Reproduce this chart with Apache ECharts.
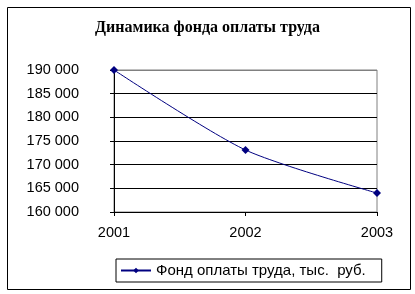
<!DOCTYPE html>
<html><head><meta charset="utf-8">
<script src="https://cdn.jsdelivr.net/npm/echarts@6/dist/echarts.min.js"></script>
<style>html,body{margin:0;padding:0;background:#fff}#c{width:415px;height:294px}</style>
</head><body><div id="c"></div>
<script>
const titleText = 'Динамика фонда оплаты труда';
const years = ['2001', '2002', '2003'];
const seriesName = 'Фонд оплаты труда, тыс.  руб.';
const fundValues = [190000, 173100, 164000];
const yMin = 160000, yMax = 190000, yStep = 5000;

const chart = echarts.init(document.getElementById('c'), null, {renderer: 'canvas'});
const fmt = v => String(v).replace(/\B(?=(\d{3})+(?!\d))/g, ' ');
chart.setOption({
  animation: false,
  backgroundColor: '#fff',
  title: {
    text: titleText, left: 'center', top: 15,
    textStyle: {fontFamily: 'Liberation Serif', fontWeight: 'bold', fontSize: 16, color: '#000'}
  },
  graphic: [{type: 'rect', left: 5, top: 5, shape: {width: 403, height: 282},
    style: {fill: 'none', stroke: '#000', lineWidth: 1}, z: -1}],
  grid: {left: 114, right: 38, top: 70, bottom: 82, show: true, borderColor: '#808080', borderWidth: 1},
  legend: {
    bottom: 12, left: 116, itemWidth: 30, itemHeight: 7,
    padding: [4, 16, 4, 4],
    borderColor: '#000', borderWidth: 1,
    textStyle: {fontFamily: 'Liberation Sans', fontSize: 15, color: '#000'},
    data: [seriesName]
  },
  xAxis: {
    type: 'category', data: years, boundaryGap: false,
    axisLine: {lineStyle: {color: '#000'}},
    axisTick: {alignWithLabel: true, length: 4, lineStyle: {color: '#000'}},
    axisLabel: {margin: 13, fontFamily: 'Liberation Sans', fontSize: 14.5, color: '#000'},
    splitLine: {show: false}
  },
  yAxis: {
    type: 'value', min: yMin, max: yMax, interval: yStep,
    axisLine: {show: true, lineStyle: {color: '#000'}},
    axisTick: {show: true, length: 4, lineStyle: {color: '#000'}},
    axisLabel: {margin: 35, fontFamily: 'Liberation Sans', fontSize: 14.5, color: '#000', formatter: fmt},
    splitLine: {show: true, lineStyle: {color: ['#000', '#000', '#000', '#000', '#000', '#000', '#808080'], width: 1}}
  },
  series: [{
    name: seriesName, type: 'line', data: fundValues, smooth: 0.25,
    symbol: 'diamond', symbolSize: 8,
    lineStyle: {color: '#000080', width: 1},
    itemStyle: {color: '#000080'}
  }]
});
</script></body></html>
